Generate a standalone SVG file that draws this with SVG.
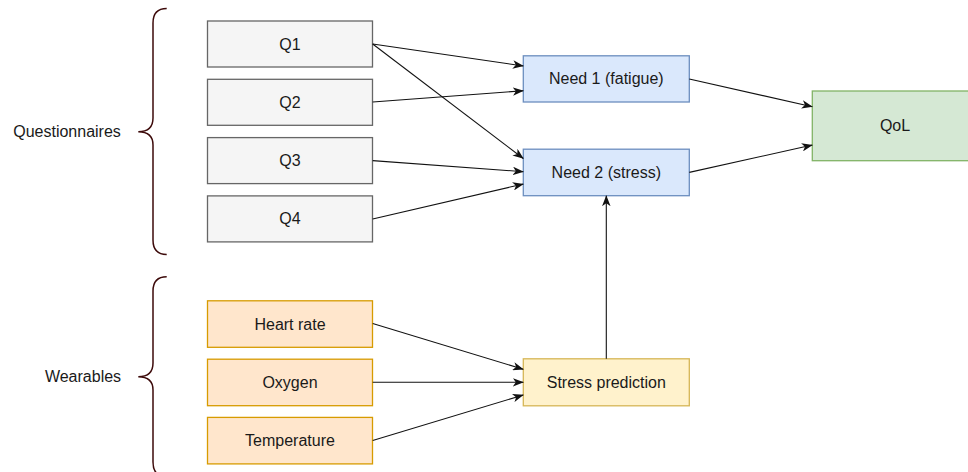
<svg xmlns="http://www.w3.org/2000/svg" width="968" height="472" viewBox="0 0 968 472">
<style>
  text { font-family: "Liberation Sans", Arial, Helvetica, sans-serif; font-size: 16px; fill: #1a1a1a; text-anchor: middle; }
  .q rect { fill: #f5f5f5; stroke: #666666; stroke-width: 1.3; }
  .w rect { fill: #ffe6cc; stroke: #d79b00; stroke-width: 1.3; }
  .n rect { fill: #dae8fc; stroke: #6c8ebf; stroke-width: 1.3; }
  .s rect { fill: #fff2cc; stroke: #d6b656; stroke-width: 1.3; }
  .g rect { fill: #d5e8d4; stroke: #82b366; stroke-width: 1.3; }
  .brace { fill: none; stroke: #3d0a0a; stroke-width: 1.5; }
  .edge { fill: none; stroke: #111111; stroke-width: 1.1; marker-end: url(#arr); }
</style>
<defs>
  <marker id="arr" viewBox="0 0 11 8.5" refX="10.5" refY="4.25" markerWidth="11" markerHeight="8.5" markerUnits="userSpaceOnUse" orient="auto">
    <path d="M0,0 L11,4.25 L0,8.5 L3,4.25 Z" fill="#111111"/>
  </marker>
</defs>
<rect width="968" height="472" fill="#ffffff"/>

<g id="questionnaires-brace">
  <path class="brace" d="M166.7 8.5 C158 8.5 153 13 153 23 L153 118 C153 127 148 131.7 138.3 131.7 C148 131.7 153 136 153 145 L153 240 C153 250 158 254.5 166.7 254.5"/>
  <text x="67" y="137">Questionnaires</text>
</g>
<g id="wearables-brace">
  <path class="brace" d="M166.7 276.7 C158 276.7 153 281 153 291 L153 363 C153 372 148 376.7 138.3 376.7 C148 376.7 153 381 153 390 L153 462 C153 472 158 476.7 166.7 476.7"/>
  <text x="83" y="382">Wearables</text>
</g>

<g id="q1" class="q"><rect x="207.5" y="21" width="165" height="46"/><text x="290" y="49.5">Q1</text></g>
<g id="q2" class="q"><rect x="207.5" y="79.3" width="165" height="46"/><text x="290" y="107.8">Q2</text></g>
<g id="q3" class="q"><rect x="207.5" y="137.6" width="165" height="46"/><text x="290" y="166.1">Q3</text></g>
<g id="q4" class="q"><rect x="207.5" y="195.9" width="165" height="46"/><text x="290" y="224.4">Q4</text></g>

<g id="heart-rate" class="w"><rect x="207.5" y="300.8" width="165" height="46.5"/><text x="290" y="329.5">Heart rate</text></g>
<g id="oxygen" class="w"><rect x="207.5" y="359.2" width="165" height="46.5"/><text x="290" y="387.9">Oxygen</text></g>
<g id="temperature" class="w"><rect x="207.5" y="417.4" width="165" height="46.5"/><text x="290" y="446.1">Temperature</text></g>

<g id="need1" class="n"><rect x="523.3" y="55.8" width="166" height="46.2"/><text x="606.3" y="84.4">Need 1 (fatigue)</text></g>
<g id="need2" class="n"><rect x="523.3" y="149.2" width="166" height="46.5"/><text x="606.3" y="177.9">Need 2 (stress)</text></g>
<g id="stress-prediction" class="s"><rect x="523.3" y="358.8" width="166" height="47"/><text x="606.3" y="387.8">Stress prediction</text></g>
<g id="qol" class="g"><rect x="812.3" y="91" width="165.4" height="69.7"/><text x="895" y="131.3">QoL</text></g>

<g id="connectors">
  <line class="edge" x1="372.7" y1="44" x2="523.3" y2="66"/>
  <line class="edge" x1="372.7" y1="44" x2="523.3" y2="158.5"/>
  <line class="edge" x1="372.7" y1="102" x2="523.3" y2="90.7"/>
  <line class="edge" x1="372.7" y1="160.6" x2="523.3" y2="171.7"/>
  <line class="edge" x1="372.7" y1="219" x2="523.3" y2="184"/>
  <line class="edge" x1="689.3" y1="79" x2="812.3" y2="106.7"/>
  <line class="edge" x1="689.3" y1="172.4" x2="812.3" y2="145"/>
  <line class="edge" x1="372.7" y1="323.5" x2="523.3" y2="369.3"/>
  <line class="edge" x1="372.7" y1="382.3" x2="523.3" y2="382.3"/>
  <line class="edge" x1="372.7" y1="440.5" x2="523.3" y2="395"/>
  <line class="edge" x1="606.3" y1="358.8" x2="606.3" y2="195.7"/>
</g>
</svg>
